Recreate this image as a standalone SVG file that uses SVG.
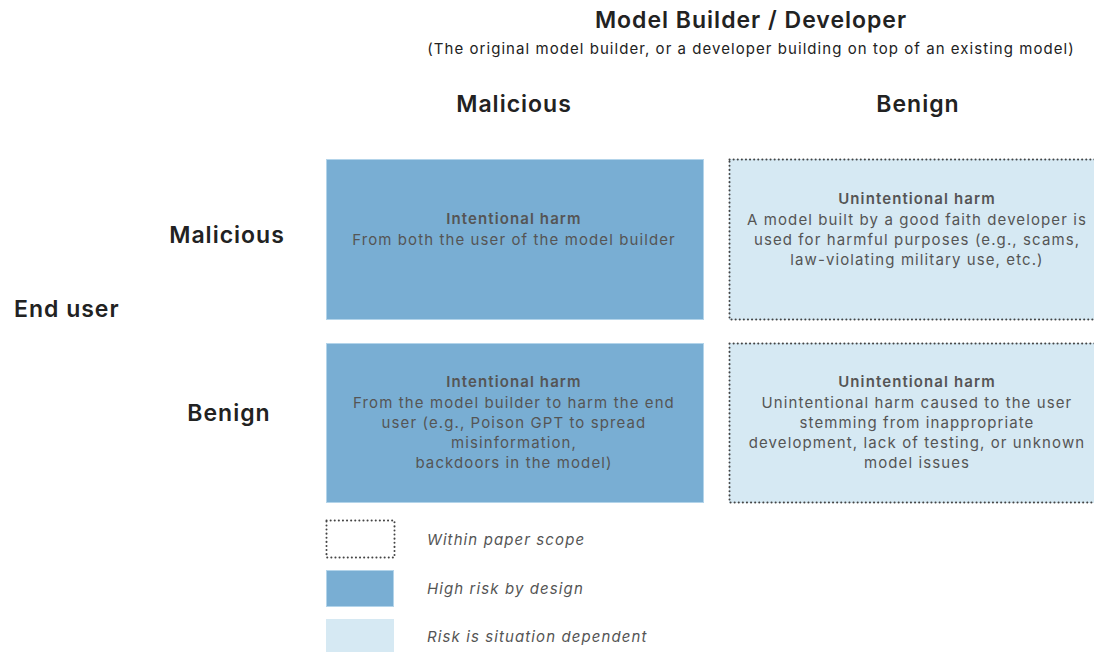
<svg xmlns="http://www.w3.org/2000/svg" width="1094" height="652" viewBox="0 0 1094 652">
<style>
.hdr{font-family:Inter,"Liberation Sans",sans-serif;font-weight:600;fill:#222;letter-spacing:1px;}
.t{font-family:Inter,"Liberation Sans",sans-serif;font-size:15px;fill:#555;text-anchor:middle;letter-spacing:1.1px;}
.b{font-weight:600;}
.dark{fill:#79aed3;stroke:#b3d4ea;stroke-width:1;}
.light{fill:#d6e9f3;}
.dot{fill:none;stroke:#444;stroke-width:2;stroke-dasharray:0.1 4;stroke-linecap:round;}
.leg{font-family:Inter,"Liberation Sans",sans-serif;font-size:15px;font-style:italic;fill:#555;letter-spacing:1.1px;}
</style>
<rect width="1094" height="652" fill="#fff"/>
<g id="headers">
<text class="hdr" x="751" y="28" font-size="23" text-anchor="middle">Model Builder / Developer</text>
<text x="751" y="54" font-family="Inter,'Liberation Sans',sans-serif" font-size="15" fill="#222" letter-spacing="1.05" text-anchor="middle">(The original model builder, or a developer building on top of an existing model)</text>
<text class="hdr" x="514" y="112" font-size="23" text-anchor="middle">Malicious</text>
<text class="hdr" x="918" y="112" font-size="23" text-anchor="middle">Benign</text>
<text class="hdr" x="227" y="243" font-size="23" text-anchor="middle">Malicious</text>
<text class="hdr" x="229" y="421" font-size="23" text-anchor="middle">Benign</text>
<text class="hdr" x="14" y="317" font-size="23">End user</text>
</g>
<g id="mm">
<rect class="dark" x="326.5" y="159.5" width="377" height="160"/>
<text class="t b" x="514" y="224">Intentional harm</text>
<text class="t" x="514" y="245">From both the user of the model builder</text>
</g>
<g id="mb">
<rect class="light" x="729" y="159" width="370" height="161"/>
<rect class="dot" x="729.5" y="159.5" width="370" height="160"/>
<text class="t b" x="917" y="204">Unintentional harm</text>
<text class="t" x="917" y="225">A model built by a good faith developer is</text>
<text class="t" x="917" y="245">used for harmful purposes (e.g., scams,</text>
<text class="t" x="917" y="265">law-violating military use, etc.)</text>
</g>
<g id="bm">
<rect class="dark" x="326.5" y="343.5" width="377" height="159"/>
<text class="t b" x="514" y="387">Intentional harm</text>
<text class="t" x="514" y="408">From the model builder to harm the end</text>
<text class="t" x="514" y="428">user (e.g., Poison GPT to spread</text>
<text class="t" x="514" y="448">misinformation,</text>
<text class="t" x="514" y="468">backdoors in the model)</text>
</g>
<g id="bb">
<rect class="light" x="729" y="343" width="370" height="160"/>
<rect class="dot" x="729.5" y="343.5" width="370" height="159"/>
<text class="t b" x="917" y="387">Unintentional harm</text>
<text class="t" x="917" y="408">Unintentional harm caused to the user</text>
<text class="t" x="917" y="428">stemming from inappropriate</text>
<text class="t" x="917" y="448">development, lack of testing, or unknown</text>
<text class="t" x="917" y="468">model issues</text>
</g>
<g id="legend">
<rect class="dot" x="326.5" y="520.5" width="68" height="37"/>
<text class="leg" x="427" y="545">Within paper scope</text>
<rect class="dark" x="326.5" y="570.5" width="67" height="36"/>
<text class="leg" x="427" y="594">High risk by design</text>
<rect class="light" x="326" y="619" width="68" height="33"/>
<text class="leg" x="427" y="642">Risk is situation dependent</text>
</g>
<g id="connectors"/>
</svg>
